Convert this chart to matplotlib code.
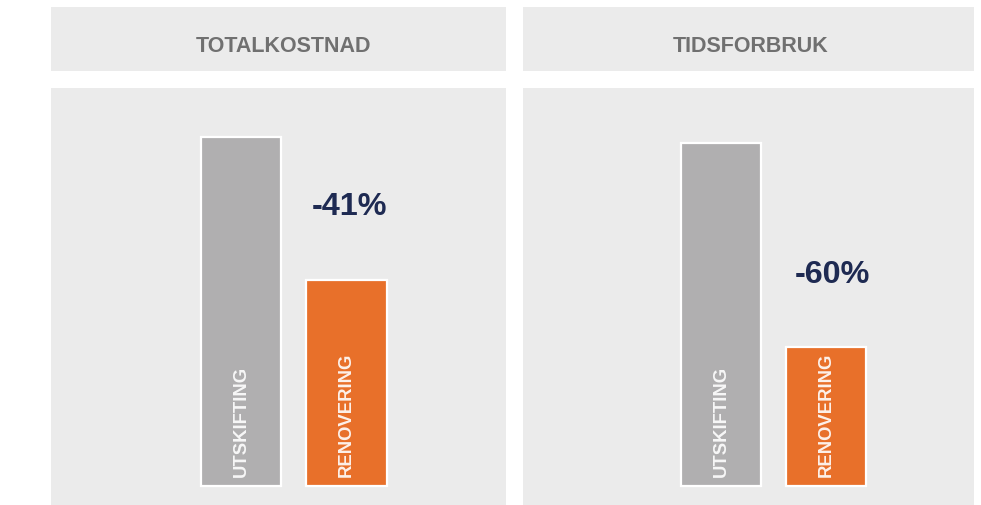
import matplotlib
matplotlib.use("Agg")
from matplotlib import pyplot as plt, rcParams

rcParams["font.family"] = ["Liberation Sans", "DejaVu Sans"]
rcParams["font.weight"] = "bold"

panel_titles = ["TOTALKOSTNAD", "TIDSFORBRUK"]
categories = ["UTSKIFTING", "RENOVERING"]
values_cost = [100, 59]
values_time = [100, 40.5]
change_labels = ["-41%", "-60%"]

bar_colors = ["#b0afb0", "#e8702a"]
panel_bg = "#ebebeb"
W, H = 981, 506

fig = plt.figure(figsize=(W / 100, H / 100), dpi=100)
fig.patch.set_facecolor("white")

# panel geometry in pixels: left, right
panels = [(51, 506), (523, 974)]
xlims = [(-1.814, 2.519), (-1.890, 2.405)]
ylims = [(-5.44, 114.0), (-5.54, 116.0)]
label_pos = [(1.03, 80.3), (1.06, 61.9)]
title_x = [0.512, 0.505]

for i, (values, title) in enumerate(zip([values_cost, values_time], panel_titles)):
    x0, x1 = panels[i]
    # header box
    hax = fig.add_axes([x0 / W, (H - 72) / H, (x1 - x0) / W, 64 / H])
    hax.set_facecolor(panel_bg)
    hax.set_xticks([])
    hax.set_yticks([])
    for s in hax.spines.values():
        s.set_visible(False)
    hax.text(title_x[i], 0.40, title, ha="center", va="center", fontsize=15.5,
             color="#707070", fontweight="bold", transform=hax.transAxes)

    ax = fig.add_axes([x0 / W, 0, (x1 - x0) / W, (H - 89) / H])
    ax.set_facecolor(panel_bg)
    ax.bar(range(len(values)), values, width=0.762, color=bar_colors,
           edgecolor="white", linewidth=1.6)
    for j, cat in enumerate(categories):
        ax.text(j, 2.8, cat, rotation=90, ha="center", va="bottom",
                fontsize=13.3, color="white", alpha=0.9, fontweight="bold")
    lx, ly = label_pos[i]
    ax.text(lx, ly, change_labels[i], ha="center", va="center",
            fontsize=23.3, color="#1e2a52", fontweight="bold")
    ax.set_xlim(*xlims[i])
    ax.set_ylim(*ylims[i])
    ax.set_xticks([])
    ax.set_yticks([])
    for s in ax.spines.values():
        s.set_visible(False)

fig.savefig("out.png", dpi=100)
